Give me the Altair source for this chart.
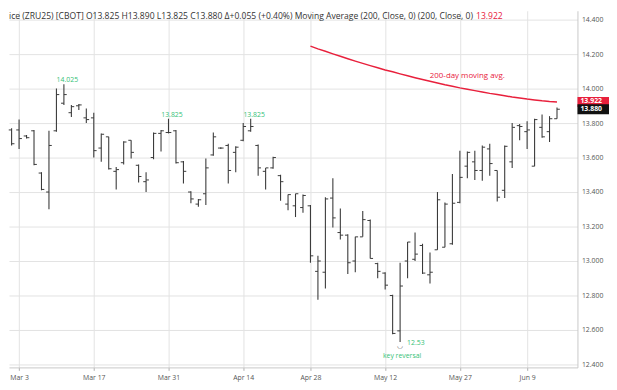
import json
import altair as alt
import pandas as pd

# ---- OHLC bars, one per trading day (Feb 28 .. Jun 12) ----
opens = [13.76, 13.76, 13.725, 13.755, 13.51, 13.40, 13.755, 13.915, 13.86, 13.90,
         13.83, 13.83, 13.655, 13.72, 13.52, 13.57, 13.70, 13.555, 13.46, 13.60,
         13.74, 13.745, 13.755, 13.575, 13.40, 13.33, 13.39, 13.615, 13.655, 13.67,
         13.63, 13.70, 13.755, 13.67, 13.52, 13.54, 13.495, 13.33, 13.32, 13.31,
         13.32, 12.94, 12.935, 13.365, 13.165, 13.15, 13.00, 13.14, 13.235, 12.985,
         12.93, 12.80, 12.595, 13.00, 13.01, 13.09, 12.92, 13.065, 13.08, 13.10,
         13.34, 13.55, 13.575, 13.525, 13.65, 13.525, 13.41, 13.575, 13.785, 13.75,
         13.55, 13.775, 13.75, 13.825]
highs = [13.77, 13.82, 13.73, 13.76, 13.515, 13.755, 14.00, 14.025, 13.905, 13.91,
         13.885, 13.86, 13.74, 13.72, 13.545, 13.695, 13.70, 13.56, 13.515, 13.745,
         13.76, 13.825, 13.76, 13.58, 13.405, 13.36, 13.595, 13.745, 13.66, 13.68,
         13.665, 13.80, 13.825, 13.675, 13.54, 13.605, 13.50, 13.385, 13.39, 13.385,
         13.325, 13.03, 13.37, 13.48, 13.305, 13.155, 13.14, 13.29, 13.24, 12.99,
         12.935, 12.805, 12.99, 13.11, 13.165, 13.10, 13.05, 13.40, 13.34, 13.505,
         13.64, 13.635, 13.64, 13.67, 13.68, 13.525, 13.67, 13.80, 13.795, 13.81,
         13.825, 13.85, 13.84, 13.89]
lows = [13.67, 13.65, 13.71, 13.555, 13.41, 13.30, 13.75, 13.905, 13.835, 13.875,
        13.80, 13.60, 13.575, 13.53, 13.415, 13.56, 13.595, 13.455, 13.40, 13.59,
        13.635, 13.74, 13.565, 13.45, 13.335, 13.315, 13.325, 13.61, 13.65, 13.45,
        13.515, 13.695, 13.75, 13.495, 13.415, 13.535, 13.35, 13.295, 13.255, 13.28,
        12.99, 12.775, 12.84, 13.195, 13.125, 12.925, 12.935, 13.14, 13.015, 12.90,
        12.835, 12.575, 12.53, 12.90, 13.00, 12.925, 12.87, 13.065, 13.08, 13.095,
        13.335, 13.48, 13.47, 13.465, 13.495, 13.345, 13.365, 13.54, 13.70, 13.65,
        13.55, 13.715, 13.69, 13.825]
closes = [13.68, 13.71, 13.715, 13.56, 13.415, 13.67, 13.965, 13.965, 13.895, 13.905,
          13.82, 13.64, 13.735, 13.535, 13.53, 13.69, 13.63, 13.49, 13.47, 13.74,
          13.755, 13.745, 13.57, 13.52, 13.36, 13.355, 13.54, 13.72, 13.655, 13.525,
          13.66, 13.78, 13.78, 13.54, 13.54, 13.60, 13.46, 13.385, 13.39, 13.38,
          13.03, 13.00, 13.36, 13.25, 13.15, 12.99, 13.14, 13.24, 13.015, 12.94,
          12.86, 12.58, 12.855, 13.11, 13.04, 12.93, 12.935, 13.355, 13.33, 13.335,
          13.485, 13.63, 13.525, 13.66, 13.565, 13.37, 13.665, 13.775, 13.78, 13.76,
          13.82, 13.72, 13.825, 13.88]

# ---- 200-day moving average (visible from bar 40 onward) ----
ma_start = 40
ma_values = [14.246, 14.230, 14.216, 14.201, 14.187, 14.173, 14.159, 14.146, 14.133, 14.121,
             14.108, 14.097, 14.085, 14.074, 14.063, 14.052, 14.042, 14.032, 14.022, 14.013,
             14.004, 13.996, 13.988, 13.980, 13.972, 13.965, 13.958, 13.951, 13.945, 13.939,
             13.934, 13.929, 13.925, 13.922]

# ---- axis ticks ----
tick_index = [1, 11, 21, 31, 40, 50, 60, 69]
tick_labels = ["Mar 3", "Mar 17", "Mar 31", "Apr 14", "Apr 28", "May 12", "May 27", "Jun 9"]
price_ticks = [12.4, 12.6, 12.8, 13.0, 13.2, 13.4, 13.6, 13.8, 14.0, 14.2, 14.4]

# ---- annotations ----
peak_index = [7, 21, 32]
peak_text = ["14.025", "13.825", "13.825"]
reversal_index = 52
reversal_low_text = "12.53"
reversal_text = "key reversal"
ma_label_index = 61
ma_label_text = "200-day moving avg."
header_text = ("ice (ZRU25) [CBOT] O13.825 H13.890 L13.825 C13.880 \u0394+0.055 (+0.40%) "
               "Moving Average (200, Close, 0)  (200, Close, 0)")
header_ma_text = "13.922"
tag_prices = [13.922, 13.880]
tag_texts = ["13.922", "13.880"]

BAR = "#3a3a3a"
GREEN = "#34c176"
RED = "#e8203c"
FONT = "Open Sans"

n = len(opens)
df = pd.DataFrame({"i": list(range(n)), "o": opens, "h": highs, "l": lows, "c": closes})
ma_df = pd.DataFrame({"i": list(range(ma_start, ma_start + len(ma_values))), "ma": ma_values})

xs = alt.Scale(domain=[-0.35, 75.74], nice=False, zero=False)
ys = alt.Scale(domain=[12.383, 14.451], nice=False, zero=False)

label_expr = "%s[indexof(%s, datum.value)]" % (json.dumps(tick_labels), json.dumps(tick_index))
x_axis = alt.Axis(values=tick_index, labelExpr=label_expr, title=None, grid=True,
                  gridColor="#e3e3e3", domainColor="#c8c8c8", tickColor="#b0b0b0", tickSize=3,
                  labelFontSize=7, labelColor="#555555", labelFont=FONT, labelPadding=3,
                  labelFlush=False)
y_axis = alt.Axis(values=price_ticks, format=".3f", orient="right", title=None, grid=True,
                  gridColor="#e3e3e3", domainColor="#c8c8c8", ticks=False,
                  labelFontSize=7, labelColor="#555555", labelFont=FONT, labelPadding=4)


def X(field):
    return alt.X(field, type="quantitative", scale=xs, axis=x_axis)


def Y(field):
    return alt.Y(field, type="quantitative", scale=ys, axis=y_axis)


base = alt.Chart(df)

hl = base.mark_rule(color=BAR, strokeWidth=1.1).encode(x=X("i"), y=Y("l"), y2="h:Q")
open_tick = base.transform_calculate(ox="datum.i - 0.38").mark_rule(
    color=BAR, strokeWidth=1).encode(x=X("ox"), x2="i:Q", y=Y("o"))
close_tick = base.transform_calculate(cx="datum.i + 0.38").mark_rule(
    color=BAR, strokeWidth=1).encode(x=X("i"), x2="cx:Q", y=Y("c"))

ma_line = alt.Chart(ma_df).mark_line(color=RED, strokeWidth=1.5).encode(x=X("i"), y=Y("ma"))

ma_label = alt.Chart(ma_df).transform_filter(alt.datum.i == ma_label_index).mark_text(
    color=RED, fontSize=8, font=FONT, dy=-13, dx=0).encode(
    x=X("i"), y=Y("ma"), text=alt.value(ma_label_text))

peaks = pd.DataFrame({"i": peak_index, "t": peak_text})
peak_labels = alt.Chart(peaks).transform_lookup(
    lookup="i", from_=alt.LookupData(df, "i", ["h"])).mark_text(
    color=GREEN, fontSize=7, font=FONT, baseline="alphabetic", dy=-2, dx=3.5).encode(
    x=X("i"), y=Y("h"), text="t:N")

rev = df[df["i"] == reversal_index]
rev_low = alt.Chart(rev).mark_text(color=GREEN, fontSize=7, font=FONT, dx=16, dy=1).encode(
    x=X("i"), y=Y("l"), text=alt.value(reversal_low_text))
rev_txt = alt.Chart(rev).mark_text(color=GREEN, fontSize=7, font=FONT, dx=2, dy=14).encode(
    x=X("i"), y=Y("l"), text=alt.value(reversal_text))
rev_mark = alt.Chart(rev).mark_text(color="#555555", fontSize=7, font="DejaVu Sans", dy=4).encode(
    x=X("i"), y=Y("l"), text=alt.value("\u25E1"))

hdr = pd.DataFrame({"t": [header_text]})
header = alt.Chart(hdr).mark_text(align="left", baseline="top", fontSize=8.7, font=FONT,
                                  color="#333333").encode(
    x=alt.value(0), y=alt.value(1), text="t:N")
header_ma = alt.Chart(pd.DataFrame({"t": [header_ma_text]})).mark_text(
    align="left", baseline="top", fontSize=8.7, font=FONT, color=RED).encode(
    x=alt.value(474), y=alt.value(1), text="t:N")

tags = pd.DataFrame({"p": tag_prices, "t": tag_texts, "k": ["ma", "last"]})
tag_layers = []
for k, col, shift in [("ma", RED, -1), ("last", "#111111", 0)]:
    sub = alt.Chart(tags).transform_filter(alt.datum.k == k).transform_calculate(
        p0="datum.p - 0.029", p1="datum.p + 0.029")
    tag_layers.append(sub.mark_rect(color=col).encode(
        x=alt.value(577), x2=alt.value(609), y=Y("p0"), y2="p1:Q"))
    tag_layers.append(sub.mark_text(color="white", fontSize=7, font=FONT, fontWeight="bold",
                                    align="left", dy=shift).encode(
        x=alt.value(580), y=Y("p"), text="t:N"))

chart = alt.layer(
    hl, open_tick, close_tick, ma_line, ma_label, peak_labels, rev_low, rev_txt, rev_mark,
    header, header_ma, *tag_layers
).properties(width=577, height=362, padding=0, background="white").configure_view(stroke=None)

chart.save("out.html", embed_options={"renderer": "svg", "actions": False})
